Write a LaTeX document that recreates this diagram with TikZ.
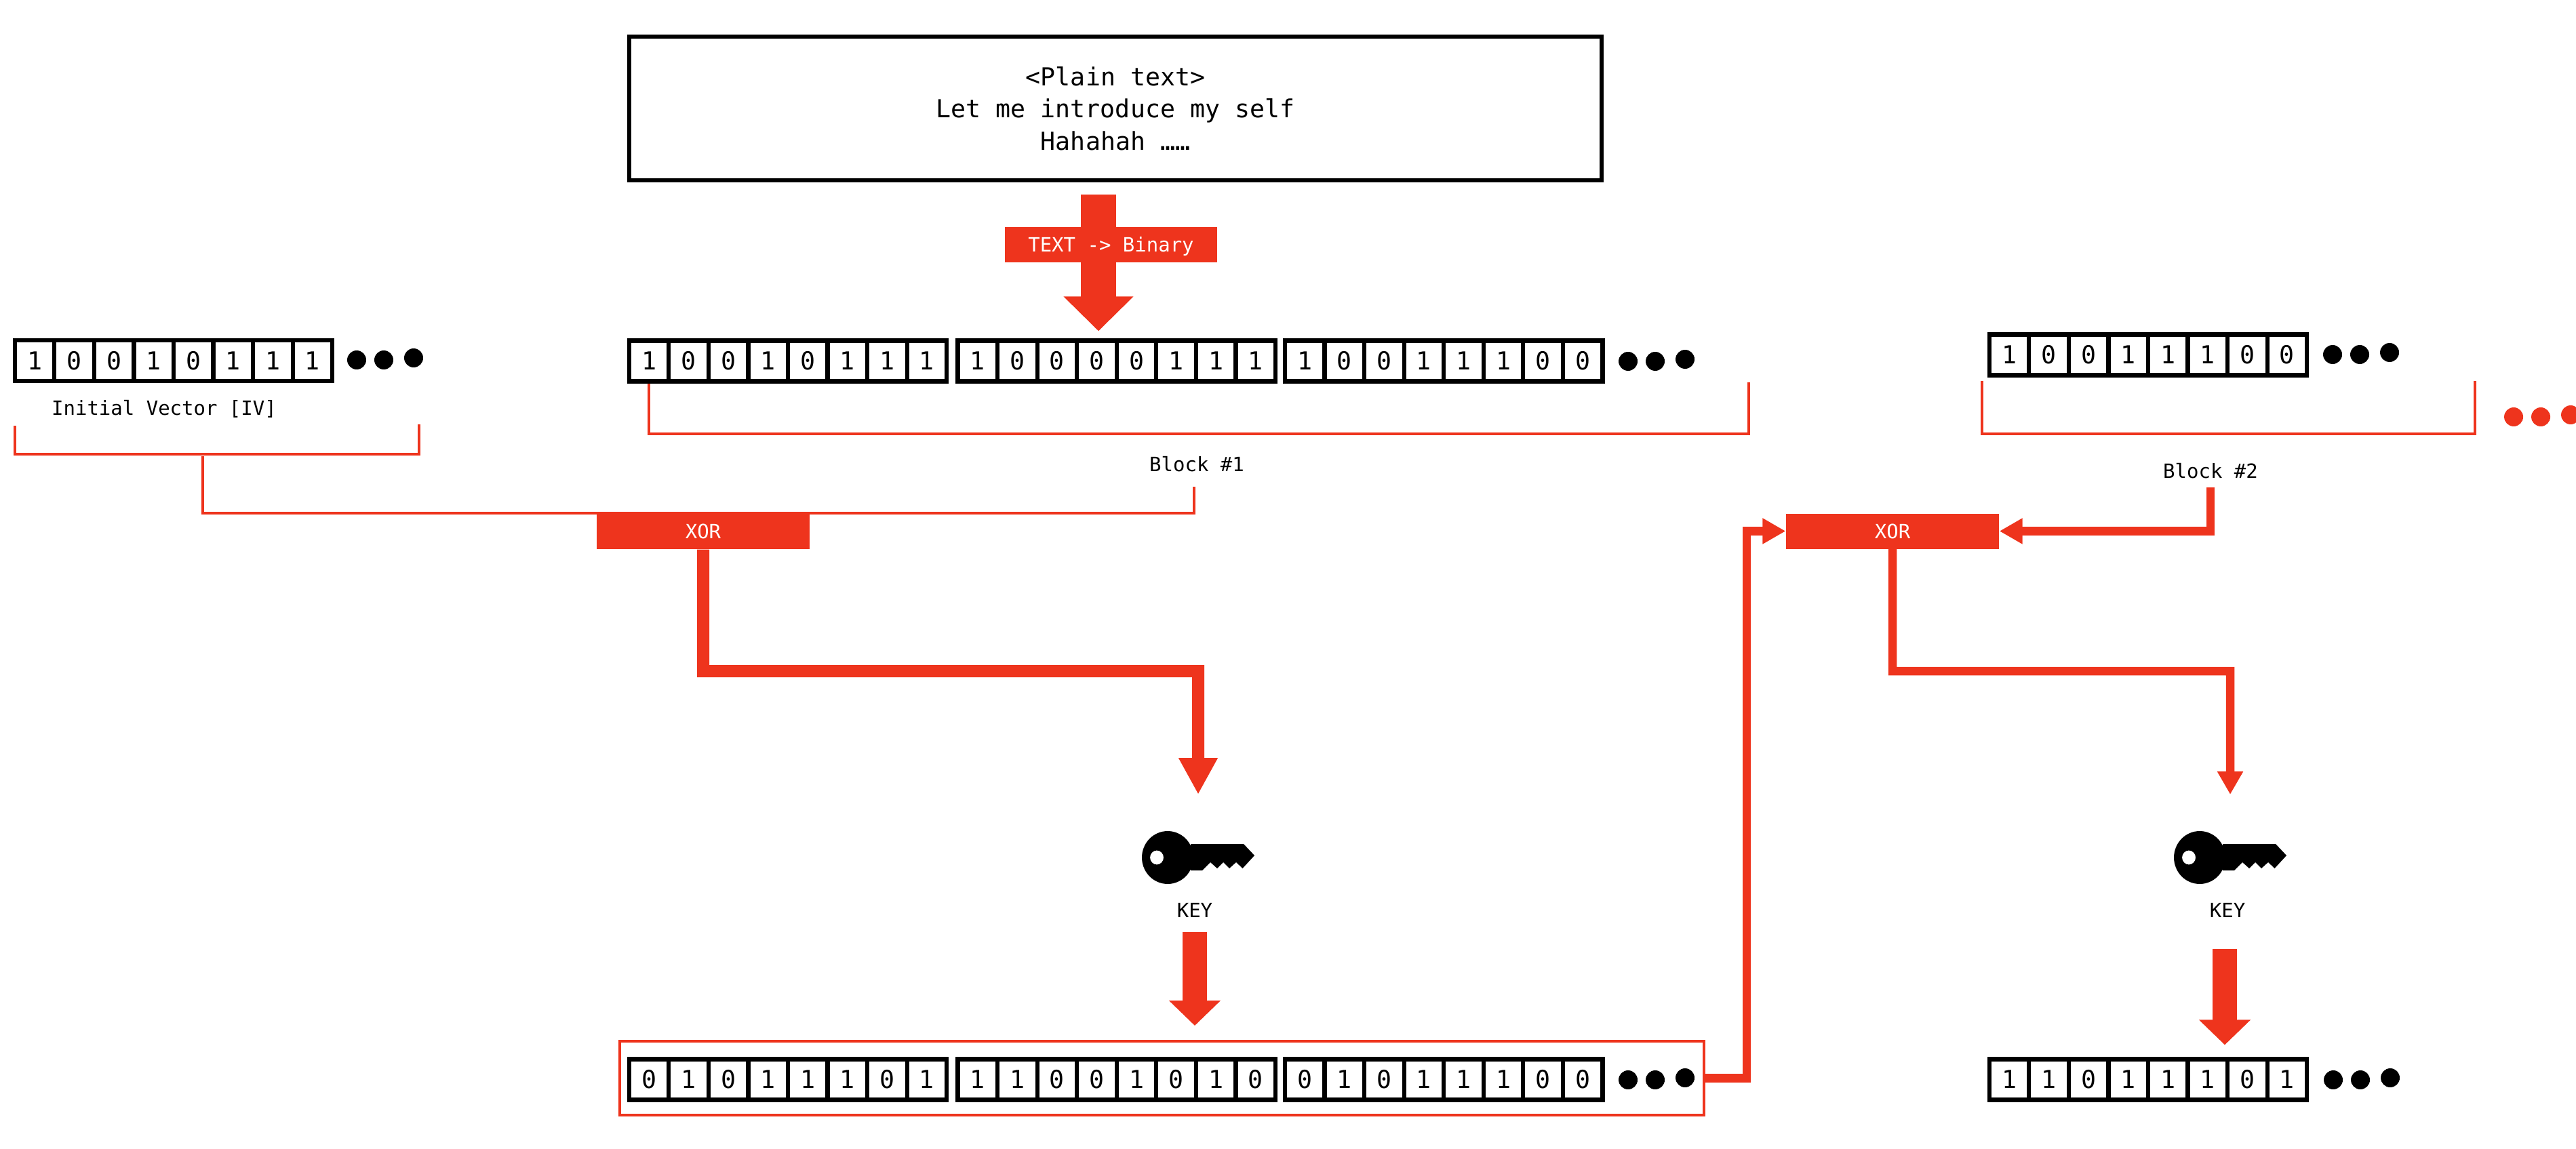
\documentclass[tikz,border=0pt]{standalone}
\usepackage{fontspec}
\setmonofont{DejaVu Sans Mono}
\usetikzlibrary{arrows.meta}
\definecolor{cbcred}{HTML}{EE341D}
\newcommand{\bigfont}{\ttfamily\fontsize{10.4}{13.5}\selectfont}
\newcommand{\smallfont}{\ttfamily\fontsize{8.25}{10}\selectfont}
\newcommand{\bitrow}[4]{%
  \foreach \bit [count=\n] in {#4} {
    \node[bitcell] (#1-\n) at ({#2+(\n-0.5)*0.5856}, #3) {\bit};
  }}
\newcommand{\tripledot}[4]{%
  \node[dot, fill=#2] (#1-1) at (#3, #4) {};
  \node[dot, fill=#2] (#1-2) at (#3+0.40, #4) {};
  \node[dot, fill=#2] (#1-3) at (#3+0.84, #4-0.03) {};}

\begin{document}
\begin{tikzpicture}[y=-1cm,
    bitcell/.style={rectangle, draw=black, fill=white, line width=0.062cm,
                    minimum width=0.5856cm, minimum height=0.60cm,
                    inner sep=0pt, font=\bigfont},
    dot/.style={circle, minimum size=0.28cm, inner sep=0pt},
    plainbox/.style={rectangle, draw=black, line width=0.068cm, align=center,
                     minimum width=14.34cm, minimum height=2.12cm, font=\bigfont},
    redbox/.style={rectangle, fill=cbcred, text=white, font=\smallfont,
                   text height=0.21cm, text depth=0pt,
                   minimum width=3.14cm, minimum height=0.52cm, inner sep=0pt},
    caption/.style={font=\smallfont, inner sep=0pt, minimum height=0.30cm},
    thinline/.style={cbcred, line width=0.035cm},
    hugearr/.style={-{Triangle[length=0.51cm, width=1.00cm]}, cbcred, line width=0.52cm},
    keyarr/.style={-{Triangle[length=0.37cm, width=0.74cm]}, cbcred, line width=0.36cm},
    fatarr/.style={-{Triangle[length=0.54cm, width=0.54cm]}, cbcred, line width=0.18cm},
    midarr/.style={-{Triangle[length=0.34cm, width=0.36cm]}, cbcred, line width=0.125cm},
    keyicon/.pic={
      \coordinate (-in) at (0.45, -0.93);
      \fill[black, even odd rule] (0, 0) ellipse [x radius=0.38, y radius=0.39]
           (-0.16, 0) ellipse [x radius=0.10, y radius=0.105];
      \fill[black] (0.34, -0.20) -- (1.12, -0.20) -- (1.28, -0.03) -- (1.105, 0.16)
           -- (1.01, 0.07) -- (0.91, 0.16) -- (0.82, 0.07) -- (0.73, 0.16)
           -- (0.63, 0.07) -- (0.51, 0.19) -- (0.34, 0.19) -- cycle;
    }
  ]
  \useasboundingbox (0, 0) rectangle (37.99, 16.95);
  %% Plain text box
  \node[plainbox] (plain) at (16.45, 1.60)
       {<Plain text>\\Let me introduce my self\\Hahahah ……};
  %% Bit rows
  \bitrow{iv}{0.2175}{5.32}{1,0,0,1,0,1,1,1}
  \tripledot{ivdots}{black}{5.26}{5.31}
  \bitrow{binA}{9.2775}{5.325}{1,0,0,1,0,1,1,1}
  \bitrow{binB}{14.125}{5.325}{1,0,0,0,0,1,1,1}
  \bitrow{binC}{18.95}{5.325}{1,0,0,1,1,1,0,0}
  \tripledot{bindots}{black}{24.01}{5.33}
  \bitrow{blockrow}{29.3375}{5.235}{1,0,0,1,1,1,0,0}
  \tripledot{blockdots}{black}{34.40}{5.23}
  \tripledot{moredots}{cbcred}{37.07}{6.15}
  \bitrow{cipherA}{9.2775}{15.925}{0,1,0,1,1,1,0,1}
  \bitrow{cipherB}{14.125}{15.925}{1,1,0,0,1,0,1,0}
  \bitrow{cipherC}{18.95}{15.925}{0,1,0,1,1,1,0,0}
  \tripledot{cipherdots}{black}{24.01}{15.93}
  \bitrow{nextrow}{29.3375}{15.925}{1,1,0,1,1,1,0,1}
  \tripledot{nextdots}{black}{34.41}{15.93}
  %% Frame round the first cipher text
  \node[rectangle, draw=cbcred, line width=0.04cm, minimum width=15.99cm,
        minimum height=1.09cm] (outframe) at (17.135, 15.905) {};
  %% Captions
  \node[caption] (ivtext) at (2.42, 6.03) {Initial Vector [IV]};
  \node[caption] (blockA) at (17.65, 6.85) {Block \#1};
  \node[caption] (blockB) at (32.60, 6.95) {Block \#2};
  %% Text to binary
  \draw[hugearr, shorten <=0.18cm, shorten >=0.11cm]
       ([xshift=-0.25cm]plain.south) -- ([xshift=-0.25cm]plain.south |- binB-4.north);
  \node[redbox, minimum width=3.13cm] (convert) at (16.385, 3.615) {TEXT -> Binary};
  %% Brackets
  \coordinate (ivtop) at (0.22, 6.28);
  \coordinate (ivlow) at (6.18, 6.70);
  \coordinate (ivend) at (6.18, 6.26);
  \draw[thinline] (ivtop) -- (ivtop |- ivlow) -- (ivlow) -- (ivend);
  \coordinate (blockAlow) at (25.79, 6.40);
  \coordinate (blockAend) at (25.79, 5.64);
  \draw[thinline] (binA-1.south) -- (binA-1.south |- blockAlow) -- (blockAlow) -- (blockAend);
  \coordinate (blockBtop) at (29.23, 5.62);
  \coordinate (blockBlow) at (36.50, 6.40);
  \coordinate (blockBend) at (36.50, 5.62);
  \draw[thinline] (blockBtop) -- (blockBtop |- blockBlow) -- (blockBlow) -- (blockBend);
  %% First XOR
  \coordinate (ivdrop) at (2.99, 6.73);
  \coordinate (ivturn) at (17.61, 7.57);
  \draw[thinline] (ivdrop) -- (ivdrop |- ivturn) -- (ivturn) -- ([yshift=-0.17cm]ivturn |- blockA.south);
  \node[redbox] (xorA) at (10.37, 7.84) {XOR};
  %% Second XOR
  \node[redbox] (xorB) at (27.91, 7.835) {XOR};
  \draw[midarr, shorten <=0.08cm] (blockB.south) |- (xorB.east);
  \coordinate (riseB) at (25.76, 7.835);
  \draw[midarr] (outframe.east) -| (riseB) -- (xorB.west);
  %% Keys
  \pic (keyA) at (17.22, 12.65) {keyicon};
  \pic (keyB) at (32.44, 12.65) {keyicon};
  \node[caption] (keytextA) at (17.62, 13.43) {KEY};
  \node[caption] (keytextB) at (32.85, 13.43) {KEY};
  %% XOR to key
  \coordinate (bendA) at (17.67, 9.90);
  \draw[fatarr] (xorA.south) |- (bendA) -- (keyA-in);
  \coordinate (bendB) at (32.89, 9.90);
  \draw[midarr] (xorB.south) |- (bendB) -- (keyB-in);
  %% Key to cipher text
  \draw[keyarr, shorten <=0.16cm, shorten >=0.21cm]
       (keytextA.south) -- (keytextA.south |- outframe.north);
  \draw[keyarr, shorten <=0.41cm, shorten >=0.18cm]
       ([xshift=-0.04cm]keytextB.south) -- ([xshift=-0.04cm]keytextB.south |- nextrow-1.north);
\end{tikzpicture}
\end{document}
